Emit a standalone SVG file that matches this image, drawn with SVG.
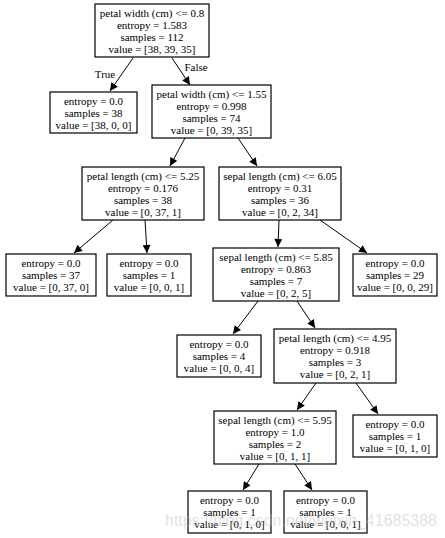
<svg xmlns="http://www.w3.org/2000/svg" width="445" height="538" viewBox="0 0 445 538">
<defs>
<marker id="ah" viewBox="0 0 10 10" refX="10" refY="5" markerWidth="9" markerHeight="8" markerUnits="userSpaceOnUse" orient="auto">
<path d="M0,0 L10,5 L0,10 Z" fill="#000"/>
</marker>
<style>
rect.n{fill:#fff;stroke:#000;stroke-width:1.2}
text{font-family:"Liberation Serif","Times New Roman",serif;font-size:11px;fill:#000;text-anchor:middle}
.e line{stroke:#000;stroke-width:1;marker-end:url(#ah)}
text.lbl{text-anchor:middle}
text.wm{font-family:"Liberation Sans",Arial,sans-serif;font-size:16px;fill:#bbb;fill-opacity:0.45;text-anchor:start}
</style>
</defs>
<rect width="445" height="538" fill="#fff"/>
<g id="edges" class="e">
<line x1="133" y1="58" x2="110" y2="91"/>
<line x1="172" y1="58" x2="190" y2="85"/>
<line x1="185" y1="138" x2="170" y2="166"/>
<line x1="238" y1="138" x2="257" y2="166"/>
<line x1="113" y1="220" x2="74" y2="253"/>
<line x1="145" y1="220" x2="147" y2="253"/>
<line x1="279" y1="220" x2="278" y2="247"/>
<line x1="320" y1="220" x2="367" y2="253"/>
<line x1="258" y1="301" x2="233" y2="334"/>
<line x1="297" y1="301" x2="315" y2="328"/>
<line x1="316" y1="383" x2="297" y2="410"/>
<line x1="356" y1="383" x2="378" y2="414"/>
<line x1="259" y1="464" x2="243" y2="490"/>
<line x1="295" y1="464" x2="312" y2="490"/>
<text class="lbl" x="105" y="78">True</text>
<text class="lbl" x="196" y="71">False</text>
</g>
<g id="n0"><rect class="n" x="95" y="4" width="114" height="53"/>
<text x="152" y="16.5">petal width (cm) &lt;= 0.8</text><text x="152" y="28.5">entropy = 1.583</text><text x="152" y="40.5">samples = 112</text><text x="152" y="52.5">value = [38, 39, 35]</text></g>
<g id="n1"><rect class="n" x="50" y="92" width="87" height="41"/>
<text x="93.5" y="104.5">entropy = 0.0</text><text x="93.5" y="116.5">samples = 38</text><text x="93.5" y="128.5">value = [38, 0, 0]</text></g>
<g id="n2"><rect class="n" x="152" y="85" width="119" height="53"/>
<text x="211.5" y="97.5">petal width (cm) &lt;= 1.55</text><text x="211.5" y="109.5">entropy = 0.998</text><text x="211.5" y="121.5">samples = 74</text><text x="211.5" y="133.5">value = [0, 39, 35]</text></g>
<g id="n3"><rect class="n" x="82" y="167" width="122" height="53"/>
<text x="143" y="179.5">petal length (cm) &lt;= 5.25</text><text x="143" y="191.5">entropy = 0.176</text><text x="143" y="203.5">samples = 38</text><text x="143" y="215.5">value = [0, 37, 1]</text></g>
<g id="n4"><rect class="n" x="219" y="167" width="122" height="53"/>
<text x="280" y="179.5">sepal length (cm) &lt;= 6.05</text><text x="280" y="191.5">entropy = 0.31</text><text x="280" y="203.5">samples = 36</text><text x="280" y="215.5">value = [0, 2, 34]</text></g>
<g id="n5"><rect class="n" x="6" y="254" width="90" height="42"/>
<text x="51" y="267">entropy = 0.0</text><text x="51" y="279">samples = 37</text><text x="51" y="291">value = [0, 37, 0]</text></g>
<g id="n6"><rect class="n" x="107" y="254" width="84" height="42"/>
<text x="149" y="267">entropy = 0.0</text><text x="149" y="279">samples = 1</text><text x="149" y="291">value = [0, 0, 1]</text></g>
<g id="n7"><rect class="n" x="213" y="248" width="126" height="53"/>
<text x="276" y="260.5">sepal length (cm) &lt;= 5.85</text><text x="276" y="272.5">entropy = 0.863</text><text x="276" y="284.5">samples = 7</text><text x="276" y="296.5">value = [0, 2, 5]</text></g>
<g id="n8"><rect class="n" x="353" y="254" width="84" height="42"/>
<text x="395" y="267">entropy = 0.0</text><text x="395" y="279">samples = 29</text><text x="395" y="291">value = [0, 0, 29]</text></g>
<g id="n9"><rect class="n" x="177" y="335" width="84" height="42"/>
<text x="219" y="348">entropy = 0.0</text><text x="219" y="360">samples = 4</text><text x="219" y="372">value = [0, 0, 4]</text></g>
<g id="n10"><rect class="n" x="274" y="329" width="122" height="54"/>
<text x="335" y="342">petal length (cm) &lt;= 4.95</text><text x="335" y="354">entropy = 0.918</text><text x="335" y="366">samples = 3</text><text x="335" y="378">value = [0, 2, 1]</text></g>
<g id="n11"><rect class="n" x="214" y="411" width="122" height="53"/>
<text x="275" y="423.5">sepal length (cm) &lt;= 5.95</text><text x="275" y="435.5">entropy = 1.0</text><text x="275" y="447.5">samples = 2</text><text x="275" y="459.5">value = [0, 1, 1]</text></g>
<g id="n12"><rect class="n" x="353" y="415" width="84" height="42"/>
<text x="395" y="428">entropy = 0.0</text><text x="395" y="440">samples = 1</text><text x="395" y="452">value = [0, 1, 0]</text></g>
<g id="n13"><rect class="n" x="188" y="491" width="83" height="42"/>
<text x="229.5" y="504">entropy = 0.0</text><text x="229.5" y="516">samples = 1</text><text x="229.5" y="528">value = [0, 1, 0]</text></g>
<g id="n14"><rect class="n" x="284" y="491" width="83" height="42"/>
<text x="325.5" y="504">entropy = 0.0</text><text x="325.5" y="516">samples = 1</text><text x="325.5" y="528">value = [0, 0, 1]</text></g>
<text class="wm" x="165" y="526" textLength="272" lengthAdjust="spacingAndGlyphs">https://blog.csdn.net/weixin_41685388</text>
</svg>
